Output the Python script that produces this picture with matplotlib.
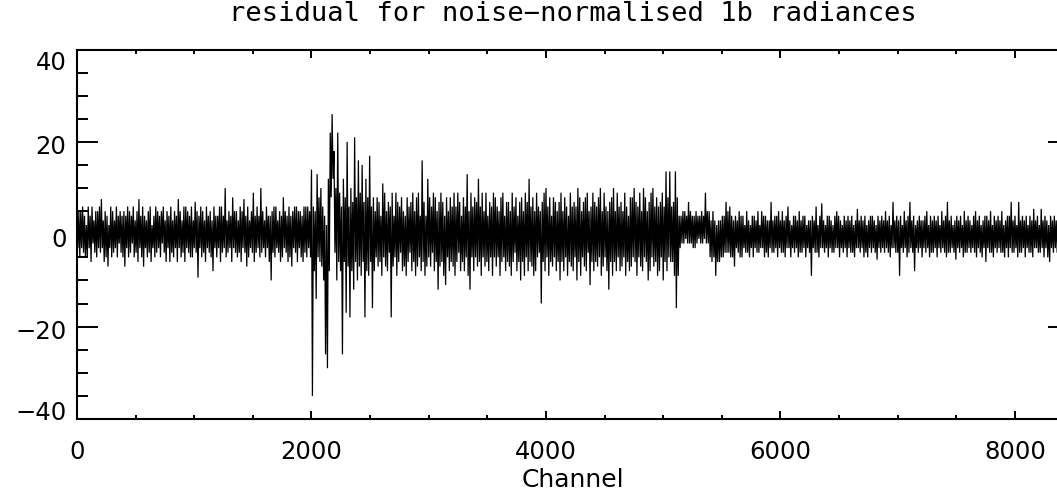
import numpy as np
import matplotlib
matplotlib.use("Agg")
import matplotlib.pyplot as plt
from matplotlib.ticker import FixedLocator, MultipleLocator
import matplotlib.transforms as mtransforms

# ---------------- data ----------------
# The residual is summarised per 16-channel bin by an upper and a lower
# value (the line swings up and down inside each bin, as in the original).
title = "residual for noise\u2212normalised 1b radiances"
xlabel = "Channel"
bin_width = 16
n_channels = 8461
x_ticks = [0, 2000, 4000, 6000, 8000]
y_ticks = [-40, -20, 0, 20, 40]

# channels 0 .. 1999
hi_0000 = [
    3, 5, 5, 6, 4, 2, 6, 4, 6, 3, 5, 5, 6, 7.6, 3, 5, 4, 2, 6, 5, 3, 6, 4, 5, 4,
    5, 4, 6, 5, 4, 6, 3, 5, 7.6, 4, 6, 4, 3, 5, 6, 2, 4, 6, 5, 4, 5, 6, 3, 5, 4,
    6, 3, 5, 4, 7.6, 5, 3, 6, 6, 5, 4, 6, 3, 7, 5, 4, 6, 5, 3, 6, 4, 5, 3, 6, 4,
    4, 6, 6, 4, 10, 3, 5, 4, 8, 5, 5, 3, 6, 5, 7.6, 4, 6, 3, 5, 9, 4, 6, 4, 10, 5,
    3, 6, 4, 4, 5, 6, 6, 3, 5, 4, 8, 5, 4, 6, 4, 5, 6, 6, 5, 5, 4, 6, 6, 6, 5,
]
lo_0000 = [
    -3, -5, -3, -4, -5, -5, -3, -6, -2, -4, -5, -3, -4, -3, -6, -5, -7, -3, -5, -4, -3, -5, -2, -4, -5,
    -7, -3, -5, -4, -2, -5, -4, -6, -3, -5, -7, -3, -5, -4, -6, -3, -5, -4, -3, -5, -2, -4, -6, -3, -6,
    -4, -5, -3, -6, -3, -5, -4, -6, -3, -4, -5, -5, -3, -4, -9.4, -3, -5, -4, -6, -3, -4, -5, -8, -3, -5,
    -3, -6, -4, -3, -5, -4, -3, -6, -3, -4, -5, -4, -6, -3, -4, -7, -5, -3, -4, -6, -4, -3, -5, -4, -3,
    -5, -3, -6, -10, -4, -5, -3, -4, -6, -5, -3, -4, -6, -5, -7, -3, -4, -6, -3, -5, -6, -4, -5, -3, -5,
]
# channels 2000 .. 2511 (large residual feature)
hi_2000 = [14, 6, 5, 13, 8, 10, 6, 4, 2, 12, 22, 26, 18, 10, 22, 9,
           6, 12, 8, 20, 6, 10, 7, 21, 8, 16, 9, 15, 7, 12, 8, 17]
lo_2000 = [-35, -8, -14, -5, -6, -7, -10, -26, -29, -8, 8, 12, -4, -10, -6, -8,
           -26, -6, -17, -7, -18, -8, -12, -6, -10, -7, -9, -6, -18, -8, -9, -6]
# channels 2512 .. 5103
hi_2512 = [
    6, 8, 5, 8, 7, 4, 11, 9, 5, 7, 6, 9, 4, 9, 7, 6, 8, 5, 4, 8,
    6, 7, 9, 5, 8, 9, 4, 16, 7, 4, 12, 8, 6, 9, 8, 5, 7, 9, 7, 4,
    8, 5, 8, 6, 9, 6, 9, 7, 4, 8, 6, 13, 5, 9, 6, 8, 7, 12, 6, 9,
    5, 9, 4, 7, 6, 9, 8, 6, 5, 8, 9, 4, 7, 7, 5, 9, 6, 8, 4, 7,
    8, 5, 9, 7, 12, 6, 8, 5, 9, 6, 5, 7, 9, 10, 6, 8, 4, 8, 7, 5,
    7, 9, 5, 8, 6, 4, 9, 6, 7, 6, 10, 8, 5, 7, 8, 9, 5, 6, 9, 7,
    6, 8, 10, 5, 9, 6, 5, 7, 8, 10, 5, 9, 6, 7, 5, 9, 6, 4, 8, 8,
    10, 7, 6, 9, 5, 10, 8, 5, 7, 9, 10, 6, 8, 6, 7, 9, 6, 13.6, 8, 13.6,
    6, 7,
]
lo_2512 = [
    -16, -8, -5, -7, -6, -9, -5, -7, -8, -4, -18, -7, -5, -9, -6, -4, -8, -7, -9, -6,
    -4, -8, -6, -9, -7, -5, -8, -6, -9, -7, -5, -7, -4, -8, -6, -12, -7, -6, -9, -11,
    -5, -8, -6, -7, -9, -6, -4, -8, -6, -8, -5, -9, -12, -5, -8, -5, -7, -6, -9, -5,
    -7, -6, -8, -5, -9, -5, -7, -5, -9, -6, -5, -8, -6, -7, -9, -6, -4, -8, -6, -10,
    -6, -9, -5, -8, -6, -7, -9, -8, -5, -4, -15, -6, -8, -5, -9, -6, -7, -5, -8, -6,
    -10, -6, -8, -5, -9, -6, -7, -8, -5, -10, -6, -9, -5, -7, -8, -4, -11, -6, -8, -6,
    -7, -5, -9, -7, -5, -8, -12, -6, -9, -6, -8, -5, -8, -7, -5, -9, -6, -8, -7, -5,
    -6, -9, -5, -7, -8, -5, -6, -10, -8, -5, -7, -6, -9, -8, -5, -10, -6, -8, -5, -6,
    -6, -9,
]
# channels 5104 .. 5615
hi_5104 = [13.6, 8, 4, 4, 5, 5, 4, 7, 5, 4, 4, 5, 4, 4, 5, 4,
           9, 5, 5, 3, 5, 3, 2, 3, 3, 4, 4, 7, 5, 6, 4, 3]
lo_5104 = [-16, -9, -3, -2, -2, -1, -2, -2, -2, -3, -3, -2, -1, -2, -2, -1,
           -2, -2, -5, -6, -5, -9, -6, -6, -5, -5, -4, -4, -4, -5, -5, -7]
# channels 5616 .. 8461
hi_5616 = [
    4, 3, 5, 4, 4, 2, 5, 3, 2, 4, 4, 3, 5, 2, 5, 4, 4, 3, 3, 7,
    3, 4, 4, 5, 3, 5, 3, 4, 6, 3, 2, 4, 4, 3, 5, 3, 4, 4, 2, 3,
    3, 4, 3, 6, 2, 4, 6.7, 3, 2, 4, 4, 3, 2, 4, 5, 4, 3, 2, 4, 3,
    4, 3, 4, 2, 3, 5.5, 3, 4, 3, 4, 2, 3, 4, 4, 3, 2, 4, 3, 4, 3,
    5, 3, 4, 2, 7, 3, 4, 3, 4, 2, 5, 3, 4, 7, 3, 4, 2, 3, 4, 3,
    3, 4, 5, 2, 4, 3, 4, 3, 4, 2, 5, 3, 4, 7, 3, 4, 2, 3, 4, 3,
    4, 2, 5, 3, 4, 3, 2, 4, 5, 3, 4, 2, 3, 4, 4, 3, 5, 2, 4, 3,
    4, 3, 5, 2, 3, 4, 4, 7, 3, 4, 2, 7, 3, 4, 3, 4, 2, 4, 3, 5.5,
    3, 4, 2, 5.5, 3, 4, 3, 2, 4, 3, 4, 3, 4, 2, 4, 3, 5, 3,
]
lo_5616 = [
    -3, -4, -5, -5, -3, -4, -4, -5, -3, -5, -3, -4, -4, -3, -3, -5, -4, -5, -3, -4,
    -4, -3, -5, -3, -4, -4, -5, -3, -3, -5, -3, -4, -3, -5, -4, -4, -3, -5, -3, -4,
    -9, -3, -4, -4, -5, -3, -3, -4, -3, -5, -3, -4, -4, -3, -3, -5, -3, -4, -3, -5,
    -3, -4, -4, -5, -3, -3, -4, -3, -5, -4, -5, -3, -4, -3, -4, -5.5, -3, -4, -3, -4,
    -3, -4, -5, -3, -3, -4, -4, -9, -3, -4, -3, -5, -4, -3, -4, -8, -3, -4, -3, -5,
    -3, -4, -3, -5, -4, -4, -3, -5, -3, -4, -3, -4, -5, -4, -4, -3, -4, -5.5, -3, -4,
    -3, -5, -4, -4, -3, -4, -3, -4, -5, -3, -4, -5, -3, -6, -3, -4, -4, -5, -3, -4,
    -3, -4, -4, -5, -3, -5, -3, -4, -4, -3, -5, -4, -4, -3, -5, -3, -4, -4, -5, -3,
    -3, -4, -4, -3, -5, -3, -5, -6, -3, -4, -3, -4, -5, -5, -3, -4, -3, -4,
]

hi = np.array(hi_0000 + hi_2000 + hi_2512 + hi_5104 + hi_5616, dtype=float)
lo = np.array(lo_0000 + lo_2000 + lo_2512 + lo_5104 + lo_5616, dtype=float)
bin_start = np.arange(hi.size) * bin_width

# interleave: upper value at the start of each bin, lower value half-way
channels = np.empty(2 * hi.size)
values = np.empty(2 * hi.size)
channels[0::2] = bin_start
channels[1::2] = bin_start + bin_width / 2
values[0::2] = hi
values[1::2] = lo

# ---------------- figure ----------------
plt.rcParams['font.family'] = ['DejaVu Sans']
W, H = 1057, 500
fig = plt.figure(figsize=(W / 100, H / 100), dpi=100)
ax = fig.add_axes([77 / W, 81 / H, 992 / W, 369.5 / H])

ax.plot(channels, values, color='black', lw=0.9, solid_joinstyle='miter')
ax.set_xlim(0, n_channels)
ax.set_ylim(-40, 40)

ax.xaxis.set_major_locator(FixedLocator(x_ticks))
ax.xaxis.set_minor_locator(MultipleLocator(500))
ax.yaxis.set_major_locator(FixedLocator(y_ticks))
ax.yaxis.set_minor_locator(MultipleLocator(5))
ax.set_xticklabels([str(v) for v in x_ticks])
ax.set_yticklabels([str(v).replace('-', '\u2212') for v in y_ticks])

for s in ax.spines.values():
    s.set_linewidth(1.5)
ax.tick_params(which='both', direction='in', top=True, right=True, width=1.4,
               labelsize=17.5, colors='black')
ax.tick_params(axis='y', which='major', length=15, pad=7.5)
ax.tick_params(axis='y', which='minor', length=8)
ax.tick_params(axis='x', which='major', length=5.8, pad=15)
ax.tick_params(axis='x', which='minor', length=3)

# IDL-style vertical placement of y labels
for lab, v in zip(ax.get_yticklabels(), y_ticks):
    if v == max(y_ticks):
        lab.set_va('top')
        off = -2 / 100
    elif v == min(y_ticks):
        lab.set_va('bottom')
        off = -6 / 100
    else:
        lab.set_va('center')
        off = -5.5 / 100
    lab.set_transform(lab.get_transform()
                      + mtransforms.ScaledTranslation(0, off, fig.dpi_scale_trans))

ax.set_xlabel(xlabel, fontsize=18, labelpad=3)
ax.set_title(title, fontsize=19.5, pad=20.5, family=['DejaVu Sans Mono'])

fig.savefig("out.png", dpi=100)
